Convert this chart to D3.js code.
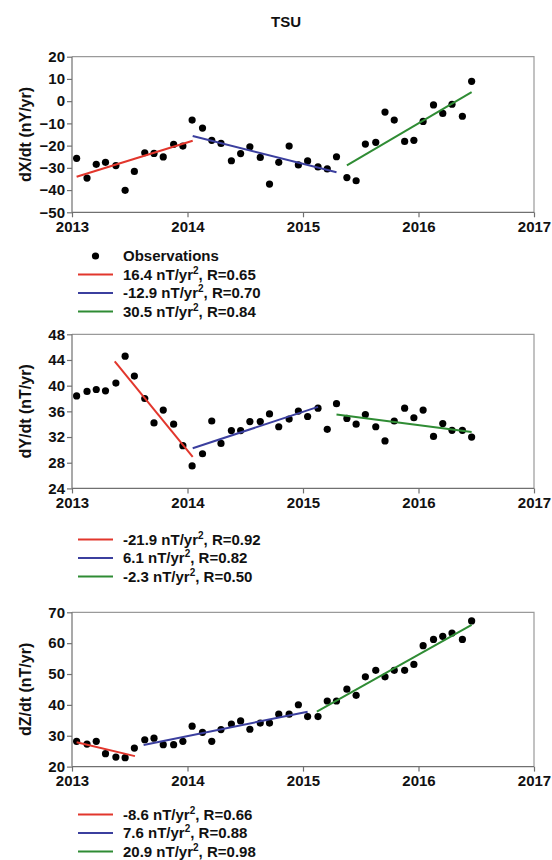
<!DOCTYPE html>
<html><head><meta charset="utf-8">
<script src="https://cdn.jsdelivr.net/npm/d3@7"></script>
<style>
body{margin:0;background:#fff;}
text{font-family:"Liberation Sans",Arial,sans-serif;font-weight:bold;fill:#111;}
</style></head>
<body><svg id="c" width="552" height="860"></svg>
<script>
const title = "TSU";
const xTicks = [2013, 2014, 2015, 2016, 2017];
const months = [
 2013.04,2013.13,2013.21,2013.29,2013.38,2013.46,2013.54,2013.63,2013.71,2013.79,2013.88,2013.96,
 2014.04,2014.13,2014.21,2014.29,2014.38,2014.46,2014.54,2014.63,2014.71,2014.79,2014.88,2014.96,
 2015.04,2015.13,2015.21,2015.29,2015.38,2015.46,2015.54,2015.63,2015.71,2015.79,2015.88,2015.96,
 2016.04,2016.13,2016.21,2016.29,2016.38,2016.46];
const dX = [-25.7,-34.6,-28.4,-27.5,-29.0,-40.1,-31.6,-23.2,-23.5,-25.1,-19.4,-20.2,
 -8.5,-12.1,-17.6,-19.0,-26.8,-23.6,-20.5,-25.3,-37.3,-27.5,-20.2,-28.7,
 -26.9,-29.6,-30.5,-25.0,-34.4,-35.8,-19.3,-18.5,-4.9,-8.5,-18.1,-17.6,
 -9.1,-1.7,-5.5,-1.4,-6.8,8.9];
const dY = [38.4,39.1,39.4,39.2,40.4,44.6,41.5,38.0,34.2,36.2,34.0,30.65,
 27.5,29.4,34.5,31.0,33.0,33.0,34.4,34.4,35.6,33.6,34.8,36.05,
 35.2,36.5,33.2,37.2,34.9,34.0,35.5,33.6,31.4,34.5,36.5,35.0,
 36.2,32.1,34.1,33.05,33.05,32.0];
const dZ = [28.2,27.3,28.2,24.2,23.1,22.9,26.0,28.7,29.2,27.1,27.1,28.2,
 33.1,31.1,28.2,32.0,33.8,34.8,32.1,34.1,34.1,37.0,37.0,40.05,
 36.2,36.2,41.25,41.25,45.1,43.1,49.1,51.2,49.1,51.2,51.2,53.1,
 59.2,61.2,62.2,63.3,61.2,67.2];
// trend segments: [t0, v0, t1, v1]
const fitX = [[2013.04,-34.0,2014.045,-17.8],[2014.045,-15.7,2015.29,-32.0],[2015.38,-28.9,2016.46,4.1]];
const fitY = [[2013.37,43.8,2014.045,28.9],[2014.045,30.25,2015.13,36.7],[2015.29,35.5,2016.46,32.8]];
const fitZ = [[2013.04,27.9,2013.545,23.4],[2013.62,27.0,2015.04,37.8],[2015.12,37.8,2016.46,65.9]];
const rateX = ["16.4","-12.9","30.5"], rX = ["0.65","0.70","0.84"];
const rateY = ["-21.9","6.1","-2.3"], rY = ["0.92","0.82","0.50"];
const rateZ = ["-8.6","7.6","20.9"], rZ = ["0.66","0.88","0.98"];
const yTicksX = [-50,-40,-30,-20,-10,0,10,20];
const yTicksY = [24,28,32,36,40,44,48];
const yTicksZ = [20,30,40,50,60,70];
const yLabels = ["dX/dt (nY/yr)","dY/dt (nT/yr)","dZ/dt (nT/yr)"];
const colors = ["#e2362c","#3b3f9e","#2f8c34"];

const svg = d3.select("#c");
svg.append("text").attr("x",286).attr("y",27).attr("text-anchor","middle").style("font-size","15px").text(title);

const x = d3.scaleLinear().domain([2013,2017]).range([72,534]);

const panels = [
 {vals:dX, fits:fitX, rates:rateX, rs:rX, ticks:yTicksX, dom:[-50,20], rng:[212.3,56.7], label:yLabels[0], obs:true, legY:256},
 {vals:dY, fits:fitY, rates:rateY, rs:rY, ticks:yTicksY, dom:[24,48], rng:[488.4,334.3], label:yLabels[1], obs:false, legY:539.5},
 {vals:dZ, fits:fitZ, rates:rateZ, rs:rZ, ticks:yTicksZ, dom:[20,70], rng:[766.6,612.3], label:yLabels[2], obs:false, legY:814.5}
];

panels.forEach(p => {
  const y = d3.scaleLinear().domain(p.dom).range(p.rng);
  const g = svg.append("g");
  g.append("path").attr("d",`M${x(2013)},${y(p.dom[1])}H${x(2017)}V${y(p.dom[0])}`)
   .attr("fill","none").attr("stroke","#9a9a9a").attr("stroke-width",1.2);
  const ya = g.append("g").attr("transform",`translate(${x(2013)},0)`)
   .call(d3.axisLeft(y).tickValues(p.ticks).tickSize(5).tickPadding(2));
  const xa = g.append("g").attr("transform",`translate(0,${y(p.dom[0])})`)
   .call(d3.axisBottom(x).tickValues(xTicks).tickFormat(d3.format("d")).tickSize(5).tickPadding(4));
  [ya,xa].forEach(a=>{
    a.selectAll("path,line").attr("stroke","#707070").attr("stroke-width",1.2);
    a.selectAll("text").style("font-size","15px").style("font-family","'Liberation Sans',Arial,sans-serif").style("font-weight","bold").attr("fill","#111");
  });
  ya.select(".domain").attr("d",`M0,${y(p.dom[1])}V${y(p.dom[0])}`);
  xa.select(".domain").attr("d",`M${x(2013)},0H${x(2017)}`);
  const cy = (p.rng[0]+p.rng[1])/2;
  g.append("text").attr("transform",`translate(25,${cy}) rotate(-90)`).attr("text-anchor","middle")
   .attr("dy","0.35em").style("font-size","16px").text(p.label);
  g.selectAll("circle").data(p.vals).join("circle")
   .attr("cx",(d,i)=>x(months[i])).attr("cy",d=>y(d)).attr("r",3.6).attr("fill","#000");
  p.fits.forEach((f,i)=>{
    g.append("line").attr("x1",x(f[0])).attr("y1",y(f[1])).attr("x2",x(f[2])).attr("y2",y(f[3]))
     .attr("stroke",colors[i]).attr("stroke-width",2);
  });
  let ly = p.legY;
  const lg = svg.append("g").style("font-size","15px");
  if (p.obs) {
    lg.append("circle").attr("cx",95.5).attr("cy",ly).attr("r",3.6).attr("fill","#000");
    lg.append("text").attr("x",123).attr("y",ly+5).text("Observations");
    ly += 18.5;
  }
  p.rates.forEach((r,i)=>{
    lg.append("line").attr("x1",78).attr("x2",113).attr("y1",ly).attr("y2",ly).attr("stroke",colors[i]).attr("stroke-width",2);
    const t = lg.append("text").attr("x",123).attr("y",ly+5);
    t.append("tspan").text(r+" nT/yr");
    t.append("tspan").attr("dy",-6).style("font-size","10px").text("2");
    t.append("tspan").attr("dy",6).text(", R="+p.rs[i]);
    ly += 18.5;
  });
});
</script></body></html>
